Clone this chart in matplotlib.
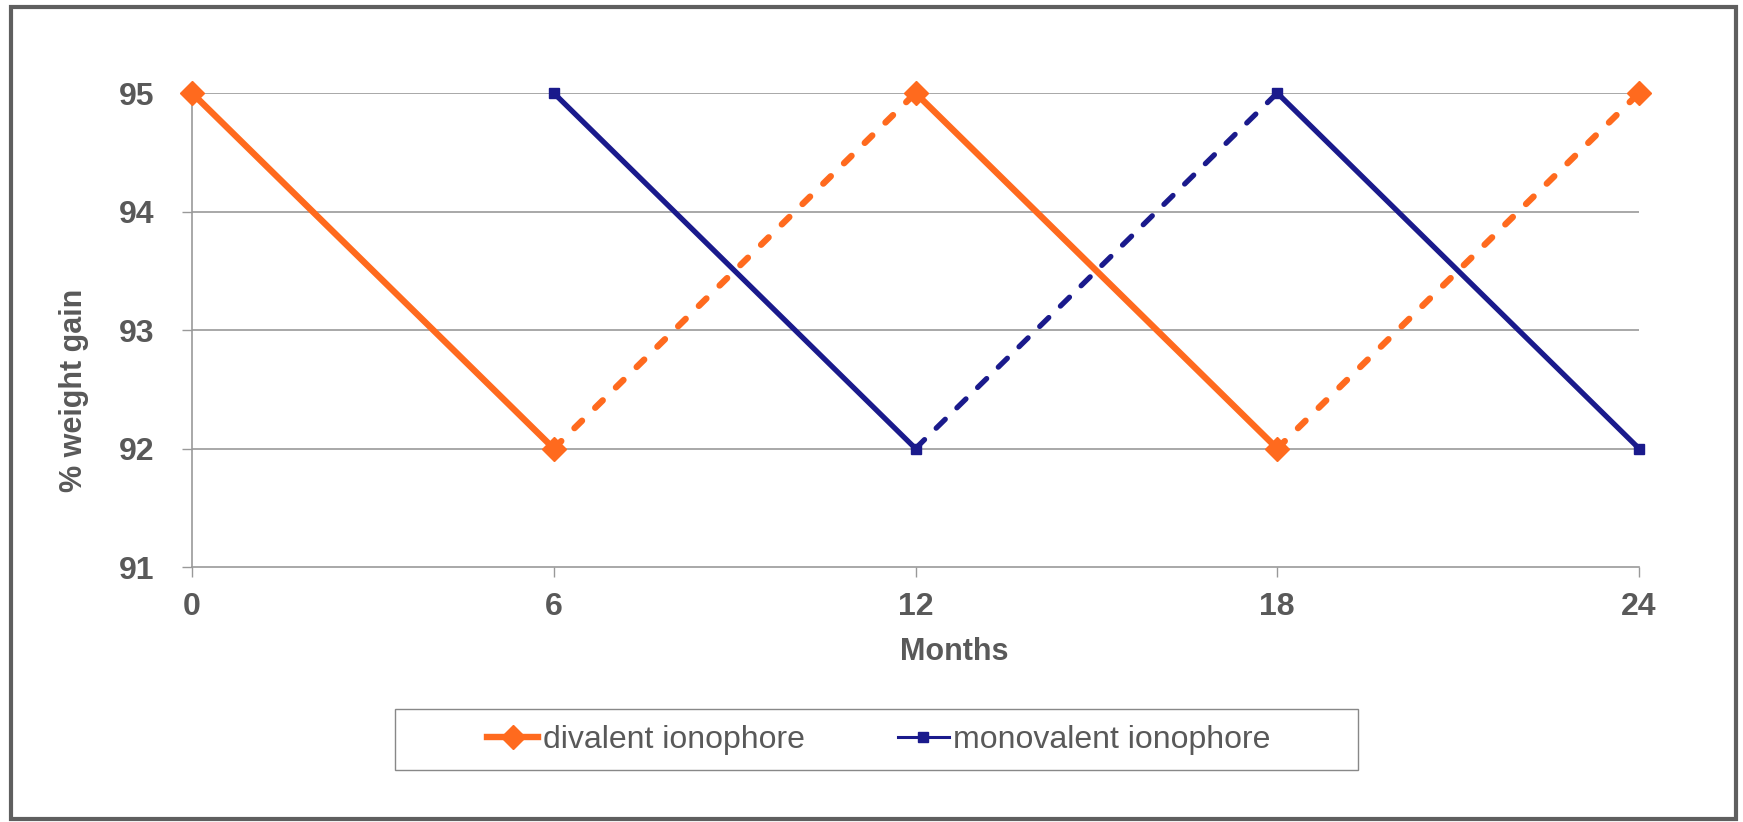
import numpy as np
import matplotlib
matplotlib.use('Agg')
from matplotlib import pyplot as plt
from matplotlib.patches import Rectangle
from matplotlib.lines import Line2D

plt.rcParams['font.family'] = ['Liberation Sans', 'DejaVu Sans']

# 데이터
months = [0, 6, 12, 18, 24]
divalent = [95, 92, 95, 92, 95]
monovalent = [np.nan, 95, 92, 95, 92]
# 구간별 선 스타일 (앞 구간 -> 뒤 구간)
divalent_seg = ['solid', 'dashed', 'solid', 'dashed']
monovalent_seg = [None, 'solid', 'dashed', 'solid']
y_ticks = [91, 92, 93, 94, 95]

ORANGE = '#FF6A1E'
NAVY = '#1A1A8C'
TXT = '#595959'
W, H = 1743, 822

fig = plt.figure(figsize=(W / 100, H / 100), dpi=100)
ax = fig.add_axes([192 / W, 1 - 567 / H, (1639 - 192) / W, (567 - 93) / H])

def draw_series(vals, segs, color, lw, dashes, marker, ms):
    for i, s in enumerate(segs):
        if s is None:
            continue
        line, = ax.plot(months[i:i + 2], vals[i:i + 2], color=color, lw=lw,
                        solid_capstyle='round', dash_capstyle='round', zorder=3)
        if s == 'dashed':
            line.set_dashes(dashes)
    ax.plot(months, vals, ls='none', marker=marker, ms=ms, color=color,
            mec=color, zorder=4, clip_on=False)

draw_series(divalent, divalent_seg, ORANGE, 4.6, (1.65, 2.9), 'D', 12)
draw_series(monovalent, monovalent_seg, NAVY, 3.8, (2.4, 3.1), 's', 7.5)

ax.set_xlim(0, 24)
ax.set_ylim(91, 95)
ax.set_xticks(months)
ax.set_yticks(y_ticks)
for y in y_ticks[1:]:
    ax.axhline(y, color='#999999', lw=1.2, zorder=1)
for sp in ['top', 'right']:
    ax.spines[sp].set_visible(False)
for sp in ['left', 'bottom']:
    ax.spines[sp].set_color('#999999')
    ax.spines[sp].set_linewidth(1.2)
ax.tick_params(axis='both', direction='out', length=7, width=1.0, color='#999999',
               labelsize=23, labelcolor=TXT)
ax.tick_params(axis='y', pad=20)
ax.tick_params(axis='x', pad=11)
for lab in ax.get_xticklabels() + ax.get_yticklabels():
    lab.set_fontweight('bold')

fig.text(954 / W, 1 - 652 / H, 'Months', ha='center', va='center',
         fontsize=22, fontweight='bold', color=TXT)
fig.text(74 / W, 1 - 390 / H, '% weight gain', ha='center', va='center',
         rotation=90, fontsize=22, fontweight='bold', color=TXT)

# 범례
fig.patches.append(Rectangle((395 / W, 1 - 770 / H), (1358 - 395) / W, 61 / H,
                             transform=fig.transFigure, fill=False,
                             edgecolor='#888888', lw=1.0))
handles = [Line2D([], [], color=ORANGE, lw=4.6, marker='D', ms=12),
           Line2D([], [], color=NAVY, lw=2.2, marker='s', ms=7.5)]
fig.legend(handles, ['divalent ionophore', 'monovalent ionophore'],
           loc='center', bbox_to_anchor=(879 / W, 1 - 740 / H), ncol=2,
           frameon=False, fontsize=23, labelcolor=TXT, handlelength=1.6,
           handletextpad=0.15, columnspacing=2.9, borderpad=0.2)

# 바깥 테두리
fig.patches.append(Rectangle((11 / W, 1 - 819 / H), (1736 - 11) / W, (819 - 7) / H,
                             transform=fig.transFigure, fill=False,
                             edgecolor='#5f5f5f', lw=3))

fig.savefig('out.png', dpi=100)
